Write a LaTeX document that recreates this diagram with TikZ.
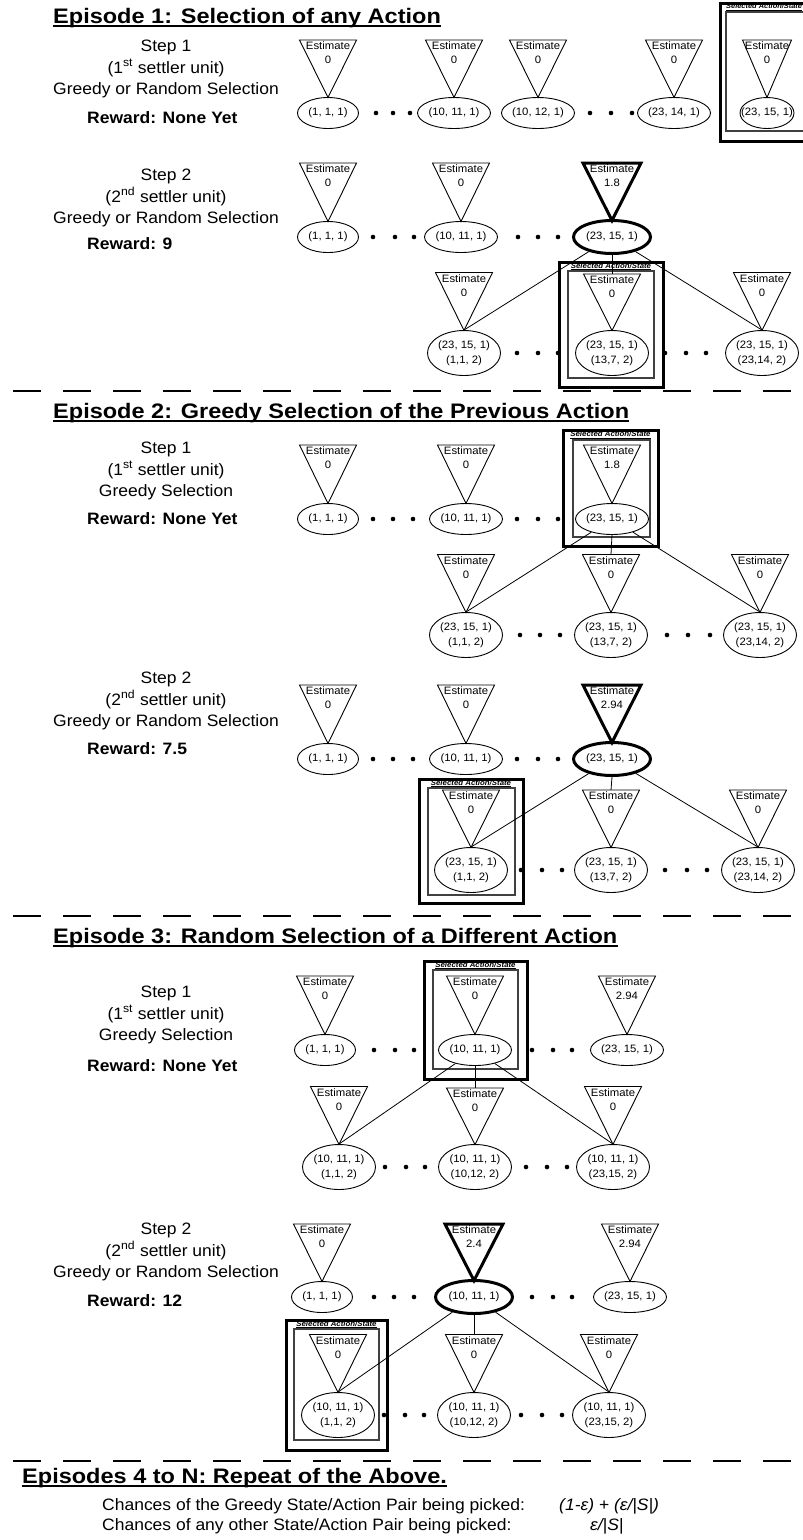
\documentclass[tikz,border=0pt]{standalone}
\usepackage{fontspec}
\setmainfont{Liberation Sans}[FakeStretch=1.06]
\newfontfamily\ttlfont{Liberation Sans}[FakeStretch=1.12]
\usetikzlibrary{shapes.geometric}
\tikzset{
  st/.style={ellipse, draw, line width=0.9pt, minimum width=73pt, minimum height=31pt, inner xsep=-12pt, inner ysep=0pt, align=center, font=\fontsize{10.7}{14.5}\selectfont},
  stn/.style={st, minimum width=61pt},
  st2/.style={st, minimum width=73pt, minimum height=45pt},
  hot/.style={line width=3pt},
  tri/.style={draw, line width=0.9pt, line join=miter},
  estxt/.style={align=center, inner sep=0pt, font=\fontsize{10.7}{14}\selectfont},
  outerbox/.style={draw, line width=3pt},
  innerbox/.style={draw=black!75, line width=1.2pt},
  selt/.style={inner sep=0pt, font=\fontsize{7.4}{8}\selectfont\bfseries\itshape},
  steptxt/.style={align=center, inner sep=0pt, font=\fontsize{16.5}{21.5}\selectfont},
  rew/.style={anchor=west, inner sep=0pt, font=\fontsize{16.5}{20}\selectfont\bfseries},
  ttl/.style={anchor=base west, inner sep=0pt, font=\ttlfont\bfseries\fontsize{21}{25}\selectfont},
  ulin/.style={line width=1.6pt},
  sep/.style={line width=2.2pt, dash pattern=on 28pt off 22pt},
  link/.style={line width=0.8pt},
  bodytxt/.style={anchor=base west, inner sep=0pt, font=\fontsize{16.5}{20}\selectfont},
}
% [style]{name}{x}{half width}{top}{apex}{value}
\newcommand\est[7][]{%
  \draw[tri,#1] (#3-#4,#5) -- (#3+#4,#5) -- (#3,#6) -- cycle;
  \coordinate (#2top) at (#3,#5);
  \node[estxt] (#2) at (#3,#5+13) {Estimate\\#7};
}
% {name}{outer x1}{outer y1}{outer x2}{outer y2}{inner x1}{inner y1}{inner x2}{inner y2}
\newcommand\selbox[9]{%
  \draw[outerbox] (#2,#3) rectangle (#4,#5);
  \draw[innerbox] (#6,#7) rectangle (#8,#9);
  \node[selt] (#1) at ({(#2+#4)/2},{(#3+#7)/2}) {\underline{Selected Action/State}};
}
\newcommand\tdots[4]{%
  \fill (#2,#1) circle (2.3pt);
  \fill (#3,#1) circle (2.3pt);
  \fill (#4,#1) circle (2.3pt);
}
\begin{document}
\begin{tikzpicture}[x=1pt,y=-1pt]
\fill[white] (0,0) rectangle (803,1540);
\useasboundingbox (0,0) rectangle (803,1540);

%% ================= Episode 1 =================
\node[ttl] (T1) at (53,23) {Episode 1: Selection of any Action};
\draw[ulin] ([yshift=-3pt]T1.base west) -- ([yshift=-3pt]T1.base east);

% Step 1
\node[steptxt] (S11) at (166,69) {Step 1\\(1\textsuperscript{st} settler unit)\\Greedy or Random Selection};
\node[rew] (R11) at (87,118) {Reward: None Yet};
\draw[outerbox] (720,3) rectangle (814,141);
\draw[innerbox] (726,12) rectangle (808,131);
\node[selt, anchor=west, font=\fontsize{7}{8}\selectfont\bfseries\itshape] (L11) at (726,7.5) {\underline{Selected Action/State}};
\est{t11a}{328}{28.5}{40}{97.5}{0}
\est{t11b}{454}{28.5}{40}{97.5}{0}
\est{t11c}{538}{28.5}{40}{97.5}{0}
\est{t11d}{674}{28.5}{40}{97.5}{0}
\est{t11e}{767}{24.5}{40}{97.5}{0}
\node[stn] (a11) at (328,113) {(1, 1, 1)};
\node[st] (b11) at (454,113) {(10, 11, 1)};
\node[st] (c11) at (538,113) {(10, 12, 1)};
\node[st] (d11) at (674,113) {(23, 14, 1)};
\node[st, minimum width=54pt] (e11) at (767,113) {(23, 15, 1)};
\tdots{113}{376}{393}{410}
\tdots{113}{590}{611}{632}

% Step 2
\node[steptxt] (S12) at (166,198) {Step 2\\(2\textsuperscript{nd} settler unit)\\Greedy or Random Selection};
\node[rew] (R12) at (87,244) {Reward: 9};
\est{t12a}{328}{28.5}{163}{221.5}{0}
\est{t12b}{461}{28.5}{163}{221.5}{0}
\est[hot]{t12c}{612}{29}{163}{220.5}{1.8}
\node[stn] (a12) at (328,237) {(1, 1, 1)};
\node[st] (b12) at (461,237) {(10, 11, 1)};
\node[st, hot, minimum width=77pt, minimum height=33pt] (c12) at (612,237) {(23, 15, 1)};
\tdots{237}{373}{395}{414}
\tdots{237}{518}{538}{558}
\selbox{L12}{559}{262}{663}{387}{568}{271}{654}{378}
\est{u12a}{464}{28.5}{272.5}{330.5}{0}
\est{u12b}{612}{28.5}{274}{330.5}{0}
\est{u12c}{762}{28.5}{272.5}{330.5}{0}
\node[st2] (ca12) at (464,353) {(23, 15, 1)\\(1,1, 2)};
\node[st2] (cb12) at (612,353) {(23, 15, 1)\\(13,7, 2)};
\node[st2] (cc12) at (762,353) {(23, 15, 1)\\(23,14, 2)};
\tdots{353}{517}{538}{558}
\tdots{353}{665}{686}{706}
\draw[link] (c12) -- (ca12.north);
\draw[link] (c12.south) -- (u12btop);
\draw[link] (c12) -- (cc12.north);

\draw[sep] (13,391) -- (803,391);

%% ================= Episode 2 =================
\node[ttl] (T2) at (53,418) {Episode 2: Greedy Selection of the Previous Action};
\draw[ulin] ([yshift=-3pt]T2.base west) -- ([yshift=-3pt]T2.base east);

% Step 1
\node[steptxt] (S21) at (166,471) {Step 1\\(1\textsuperscript{st} settler unit)\\Greedy Selection};
\node[rew] (R21) at (87,519) {Reward: None Yet};
\selbox{L21}{563}{430}{658}{546}{573}{440}{650}{537}
\est{t21a}{328}{28.5}{445}{503.5}{0}
\est{t21b}{466}{28.5}{445}{503.5}{0}
\est{t21c}{612}{28.5}{445}{503.5}{1.8}
\node[stn] (a21) at (328,519) {(1, 1, 1)};
\node[st] (b21) at (466,519) {(10, 11, 1)};
\node[st] (c21) at (612,519) {(23, 15, 1)};
\tdots{519}{373}{393}{413}
\tdots{519}{517}{538}{558}
\est{u21a}{466}{28.5}{554.5}{612.5}{0}
\est{u21b}{611}{28.5}{554.5}{612.5}{0}
\est{u21c}{760}{28.5}{554.5}{612.5}{0}
\node[st2] (ca21) at (466,635) {(23, 15, 1)\\(1,1, 2)};
\node[st2] (cb21) at (611,635) {(23, 15, 1)\\(13,7, 2)};
\node[st2] (cc21) at (760,635) {(23, 15, 1)\\(23,14, 2)};
\tdots{635}{520}{540}{560}
\tdots{635}{667}{688}{710}
\draw[link] (c21) -- (ca21.north);
\draw[link] (c21.south) -- (u21btop);
\draw[link] (c21) -- (cc21.north);

% Step 2
\node[steptxt] (S22) at (166,701) {Step 2\\(2\textsuperscript{nd} settler unit)\\Greedy or Random Selection};
\node[rew] (R22) at (87,749) {Reward: 7.5};
\est{t22a}{328}{28.5}{685}{743.5}{0}
\est{t22b}{466}{28.5}{685}{743.5}{0}
\est[hot]{t22c}{612}{29}{685}{742.5}{2.94}
\node[stn] (a22) at (328,759) {(1, 1, 1)};
\node[st] (b22) at (466,759) {(10, 11, 1)};
\node[st, hot, minimum width=77pt, minimum height=33pt] (c22) at (612,759) {(23, 15, 1)};
\tdots{759}{373}{393}{413}
\tdots{759}{517}{538}{558}
\selbox{L22}{419}{779}{523}{903}{428}{788}{515}{895}
\est{u22a}{471}{28.5}{790}{847.5}{0}
\est{u22b}{611}{28.5}{790}{847.5}{0}
\est{u22c}{758}{28.5}{790}{847.5}{0}
\node[st2] (ca22) at (471,870) {(23, 15, 1)\\(1,1, 2)};
\node[st2] (cb22) at (611,870) {(23, 15, 1)\\(13,7, 2)};
\node[st2] (cc22) at (758,870) {(23, 15, 1)\\(23,14, 2)};
\tdots{870}{521}{542}{562}
\tdots{870}{665}{687}{707}
\draw[link] (c22) -- (ca22.north);
\draw[link] (c22.south) -- (u22btop);
\draw[link] (c22) -- (cc22.north);

\draw[sep] (13,916) -- (803,916);

%% ================= Episode 3 =================
\node[ttl] (T3) at (53,943) {Episode 3: Random Selection of a Different Action};
\draw[ulin] ([yshift=-3pt]T3.base west) -- ([yshift=-3pt]T3.base east);

% Step 1
\node[steptxt] (S31) at (166,1015) {Step 1\\(1\textsuperscript{st} settler unit)\\Greedy Selection};
\node[rew] (R31) at (87,1066) {Reward: None Yet};
\selbox{L31}{424}{961}{527}{1079}{433}{970}{518}{1069}
\est{t31a}{325}{28.5}{976}{1034.5}{0}
\est{t31b}{475}{28.5}{976}{1034.5}{0}
\est{t31c}{627}{28.5}{976}{1034.5}{2.94}
\node[stn] (a31) at (325,1050) {(1, 1, 1)};
\node[st] (b31) at (475,1050) {(10, 11, 1)};
\node[st] (c31) at (627,1050) {(23, 15, 1)};
\tdots{1050}{374}{395}{414}
\tdots{1050}{532}{553}{572}
\est{u31a}{339}{28.5}{1086.5}{1144.5}{0}
\est{u31b}{475}{28.5}{1088}{1144.5}{0}
\est{u31c}{613}{28.5}{1086.5}{1144.5}{0}
\node[st2] (ca31) at (339,1167) {(10, 11, 1)\\(1,1, 2)};
\node[st2] (cb31) at (475,1167) {(10, 11, 1)\\(10,12, 2)};
\node[st2] (cc31) at (613,1167) {(10, 11, 1)\\(23,15, 2)};
\tdots{1167}{385}{406}{425}
\tdots{1167}{526}{547}{567}
\draw[link] (b31) -- (ca31.north);
\draw[link] (b31.south) -- (u31btop);
\draw[link] (b31) -- (cc31.north);

% Step 2
\node[steptxt] (S32) at (166,1252) {Step 2\\(2\textsuperscript{nd} settler unit)\\Greedy or Random Selection};
\node[rew] (R32) at (87,1301) {Reward: 12};
\est{t32a}{322}{28.5}{1224}{1281.5}{0}
\est[hot]{t32b}{474}{29}{1224}{1280.5}{2.4}
\est{t32c}{630}{28.5}{1224}{1281.5}{2.94}
\node[stn] (a32) at (322,1297) {(1, 1, 1)};
\node[st, hot, minimum width=77pt, minimum height=33pt] (b32) at (474,1297) {(10, 11, 1)};
\node[st] (c32) at (630,1297) {(23, 15, 1)};
\tdots{1297}{374}{394}{414}
\tdots{1297}{532}{553}{572}
\selbox{L32}{286}{1320}{387}{1450}{294}{1329}{379}{1440}
\est{u32a}{338}{28.5}{1334.5}{1392.5}{0}
\est{u32b}{474}{28.5}{1334.5}{1392.5}{0}
\est{u32c}{609}{28.5}{1334.5}{1392.5}{0}
\node[st2] (ca32) at (338,1415) {(10, 11, 1)\\(1,1, 2)};
\node[st2] (cb32) at (474,1415) {(10, 11, 1)\\(10,12, 2)};
\node[st2] (cc32) at (609,1415) {(10, 11, 1)\\(23,15, 2)};
\tdots{1415}{384}{405}{424}
\tdots{1415}{521}{542}{562}
\draw[link] (b32) -- (ca32.north);
\draw[link] (b32.south) -- (u32btop);
\draw[link] (b32) -- (cc32.north);

\draw[sep] (13,1461) -- (803,1461);

%% ================= Episodes 4 to N =================
\node[ttl] (T4) at (22,1483) {Episodes 4 to N: Repeat of the Above.};
\draw[ulin] ([yshift=-3pt]T4.base west) -- ([yshift=-3pt]T4.base east);
\node[bodytxt] (C1) at (102,1510) {Chances of the Greedy State/Action Pair being picked:};
\node[bodytxt] (F1) at (559,1510) {\itshape (1-ε) + (ε/|S|)};
\node[bodytxt] (C2) at (102,1530) {Chances of any other State/Action Pair being picked:};
\node[bodytxt] (F2) at (590,1530) {\itshape ε/|S|};
\end{tikzpicture}
\end{document}
